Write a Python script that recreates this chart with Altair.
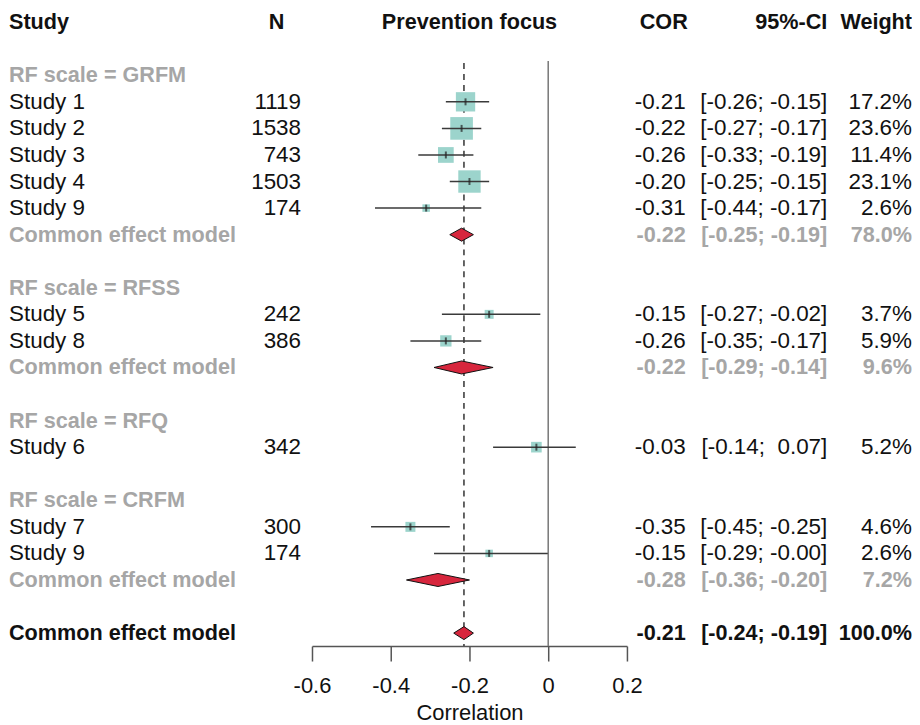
import altair as alt
import pandas as pd

# ---------------- data ----------------
study_labels = ["Study 1", "Study 2", "Study 3", "Study 4", "Study 9",
                "Study 5", "Study 8", "Study 6", "Study 7", "Study 9"]
study_rows = [3, 4, 5, 6, 7, 11, 12, 16, 19, 20]
study_n = [1119, 1538, 743, 1503, 174, 242, 386, 342, 300, 174]
study_cor = [-0.21, -0.22, -0.26, -0.20, -0.31, -0.15, -0.26, -0.03, -0.35, -0.15]
study_lo = [-0.26, -0.27, -0.33, -0.25, -0.44, -0.27, -0.35, -0.14, -0.45, -0.29]
study_hi = [-0.15, -0.17, -0.19, -0.15, -0.17, -0.02, -0.17, 0.07, -0.25, -0.001]
study_weight = [17.2, 23.6, 11.4, 23.1, 2.6, 3.7, 5.9, 5.2, 4.6, 2.6]

group_labels = ["RF scale = GRFM", "RF scale = RFSS", "RF scale = RFQ", "RF scale = CRFM"]
group_rows = [2, 10, 15, 18]

pooled_labels = ["Common effect model"] * 4
pooled_rows = [8, 13, 21, 23]
pooled_cor = [-0.22, -0.22, -0.28, -0.214]
pooled_lo = [-0.25, -0.29, -0.36, -0.24]
pooled_hi = [-0.19, -0.14, -0.20, -0.19]
pooled_weight = [78.0, 9.6, 7.2, 100.0]
pooled_kind = ["sub", "sub", "sub", "overall"]

header_labels = ["Study", "N", "Prevention focus", "COR", "95%-CI", "Weight"]
null_value = [0.0]
axis_ticks = [-0.6, -0.4, -0.2, 0.0, 0.2]
n_rows = 23

# ---------------- styling ----------------
FONT = "Liberation Sans"
FS = 22.5      # regular text
FSB = 21.7     # bold text
GRAY = "#a6a6a6"
TEAL = "#9cd4cc"
RED = "#d7263d"
BLACK = "#111111"


def ci_text(lo, hi):
    def f(v):
        s = f"{v:.2f}"
        return s if s.startswith("-") else "\u00a0" + s
    return f"[{f(lo)}; {f(hi)}]"


studies = pd.DataFrame({
    "row": study_rows, "label": study_labels, "n": [str(v) for v in study_n],
    "cor": study_cor, "lo": study_lo, "hi": study_hi, "weight": study_weight,
})
studies["cor_txt"] = [f"{v:.2f}" for v in study_cor]
studies["ci_txt"] = [ci_text(a, b) for a, b in zip(study_lo, study_hi)]
studies["w_txt"] = [f"{v:.1f}%" for v in study_weight]

pooled = pd.DataFrame({
    "row": pooled_rows, "label": pooled_labels, "cor": pooled_cor,
    "lo": pooled_lo, "hi": pooled_hi, "weight": pooled_weight, "kind": pooled_kind,
})
pooled["cor_txt"] = [f"{v:.2f}" for v in pooled_cor]
pooled["ci_txt"] = [ci_text(a, b) for a, b in zip(pooled_lo, pooled_hi)]
pooled["w_txt"] = [f"{v:.1f}%" for v in pooled_weight]
sub_pooled = pooled[pooled["kind"] == "sub"]
overall = pooled[pooled["kind"] == "overall"]

groups = pd.DataFrame({"row": group_rows, "label": group_labels})

# diamond vertices built from pooled estimates
HALF = 0.245  # half height of diamond in row units
dia_rows = []
for i, r in pooled.iterrows():
    dia_rows.append({"g": i, "x": r["lo"], "y": r["row"], "y2": r["row"]})
    dia_rows.append({"g": i, "x": r["cor"], "y": r["row"] - HALF, "y2": r["row"] + HALF})
    dia_rows.append({"g": i, "x": r["hi"], "y": r["row"], "y2": r["row"]})
diamonds = pd.DataFrame(dia_rows)

# ---------------- scales ----------------
XSCALE = alt.Scale(domain=[-0.6, 0.2], range=[305, 621], nice=False, zero=False)
YSCALE = alt.Scale(domain=[0, n_rows], range=[13, 626], nice=False, zero=False)
XAXIS = alt.Axis(values=axis_ticks, labelExpr="'' + datum.value", title="Correlation",
                 grid=False, tickSize=15, tickWidth=1.5, domainWidth=1.5,
                 domainColor="#555555", tickColor="#555555",
                 labelFont=FONT, labelFontSize=22, labelColor=BLACK, labelPadding=15,
                 titleFont=FONT, titleFontSize=22, titleFontWeight="normal",
                 titleColor=BLACK, titlePadding=6, labelFlush=False)


def X(field):
    return alt.X(f"{field}:Q", scale=XSCALE, axis=XAXIS)


def Y(field="row"):
    return alt.Y(f"{field}:Q", scale=YSCALE, axis=None)


layers = []

# reference lines
layers.append(alt.Chart(pd.DataFrame({"v": null_value})).mark_rule(
    color="#777777", strokeWidth=1.5).encode(x=X("v"), y=alt.value(52), y2=alt.value(639)))
layers.append(alt.Chart(overall).mark_rule(
    color="#333333", strokeWidth=1.5, strokeDash=[6, 5]).encode(
    x=X("cor"), y=alt.value(54), y2=alt.value(639)))

# squares
layers.append(alt.Chart(studies).mark_square(filled=True, color=TEAL, opacity=1).encode(
    x=X("cor"), y=Y(),
    size=alt.Size("weight:Q", scale=alt.Scale(type="linear", domain=[0, 23.6], range=[0, 515]),
                  legend=None)))
# CI lines
layers.append(alt.Chart(studies).mark_rule(color="#3a3a3a", strokeWidth=1.5).encode(
    x=X("lo"), x2="hi", y=Y()))
# estimate tick
layers.append(alt.Chart(studies).mark_tick(orient="vertical", color="#222222", size=7,
                                           thickness=2).encode(x=X("cor"), y=Y()))
# diamonds
layers.append(alt.Chart(diamonds).mark_area(color=RED, stroke="#111111", strokeWidth=1,
                                            opacity=1).encode(
    x=X("x"), y=alt.Y("y:Q", scale=YSCALE, axis=None), y2="y2", detail="g:N"))


def text_layer(df, field, xpos, align, weight, color):
    size = FSB if weight == "bold" else FS
    return alt.Chart(df).mark_text(align=align, baseline="middle", font=FONT, fontSize=size,
                                   fontWeight=weight, color=color).encode(
        x=alt.value(xpos), y=Y(), text=f"{field}:N")


COLS = [("cor_txt", 680, "right"), ("ci_txt", 822, "right"), ("w_txt", 907, "right")]

# study rows
layers.append(text_layer(studies, "label", 1, "left", "normal", BLACK))
layers.append(text_layer(studies, "n", 294, "right", "normal", BLACK))
for f, xp, al in COLS:
    layers.append(text_layer(studies, f, xp, al, "normal", BLACK))

# group labels
layers.append(text_layer(groups, "label", 1, "left", "bold", GRAY))

# subgroup pooled rows
layers.append(text_layer(sub_pooled, "label", 1, "left", "bold", GRAY))
for f, xp, al in COLS:
    layers.append(text_layer(sub_pooled, f, xp, al, "bold", GRAY))

# overall row
layers.append(text_layer(overall, "label", 1, "left", "bold", BLACK))
for f, xp, al in COLS:
    layers.append(text_layer(overall, f, xp, al, "bold", BLACK))

# header row
header_pos = [(1, "left"), (269.5, "center"), (463, "center"), (682, "right"),
              (822, "right"), (907, "right")]
hdr = pd.DataFrame({"row": [0] * len(header_labels), "label": header_labels})
for i, (xp, al) in enumerate(header_pos):
    layers.append(text_layer(hdr.iloc[[i]], "label", xp, al, "bold", BLACK))

chart = alt.layer(*layers).properties(width=904, height=639, padding=0).configure_view(
    stroke=None)

chart.save("out.html", embed_options={"renderer": "svg", "actions": False})
